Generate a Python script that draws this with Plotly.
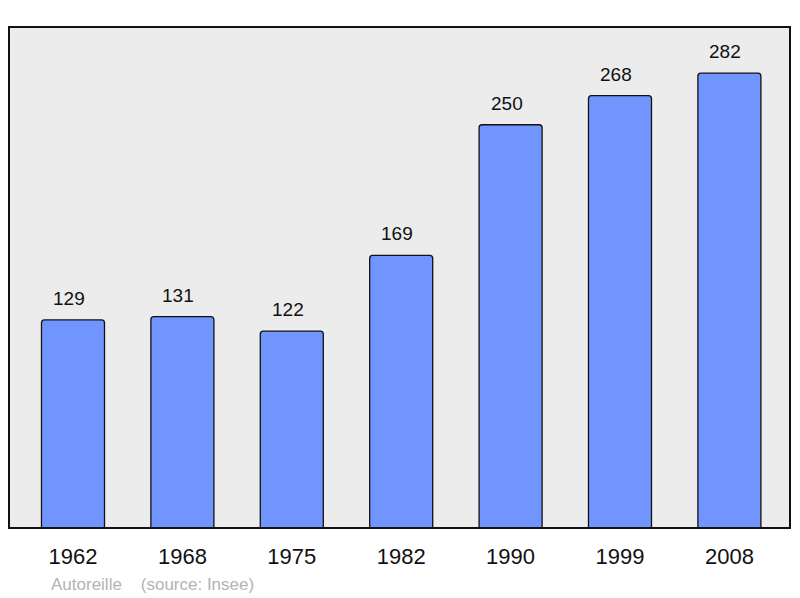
import plotly.graph_objects as go

annees = ["1962", "1968", "1975", "1982", "1990", "1999", "2008"]
population = [129, 131, 122, 169, 250, 268, 282]
source = "Autoreille    (source: Insee)"

police = "Liberation Sans, Arial"

fig = go.Figure()

fig.add_trace(go.Bar(
    x=list(range(len(annees))), y=population,
    width=0.576,
    marker=dict(color="#7095ff", line=dict(color="#111111", width=1.3), cornerradius=3),
    hoverinfo="y",
))

# etiquettes des valeurs au-dessus des barres (x = indice de categorie)
for i, p in enumerate(population):
    fig.add_annotation(x=i, y=p, text=str(p), showarrow=False,
                       yanchor="bottom", yshift=9, xshift=-4,
                       font=dict(family=police, size=19, color="#111111"))

fig.add_annotation(xref="paper", yref="paper", x=0.051, y=-0.112, xanchor="left",
                   yanchor="middle", text=source, showarrow=False,
                   font=dict(family=police, size=17, color="#b3b3b3"))

fig.add_shape(type="rect", xref="paper", yref="paper", x0=0, y0=0, x1=1, y1=1,
              line=dict(color="#111111", width=2), layer="above")

fig.update_layout(
    width=800, height=598,
    margin=dict(l=1, r=18, t=19, b=78),
    paper_bgcolor="white",
    plot_bgcolor="#ececec",
    showlegend=False,
    xaxis=dict(range=[-0.585, 6.554], showgrid=False, ticks="", zeroline=False,
               tickmode="array", tickvals=list(range(len(annees))), ticktext=annees,
               ticklabelstandoff=13,
               tickfont=dict(family=police, size=22, color="#111111")),
    yaxis=dict(range=[0, 310.6], showgrid=False, showticklabels=False, zeroline=False),
)

fig.write_html("out.html")
